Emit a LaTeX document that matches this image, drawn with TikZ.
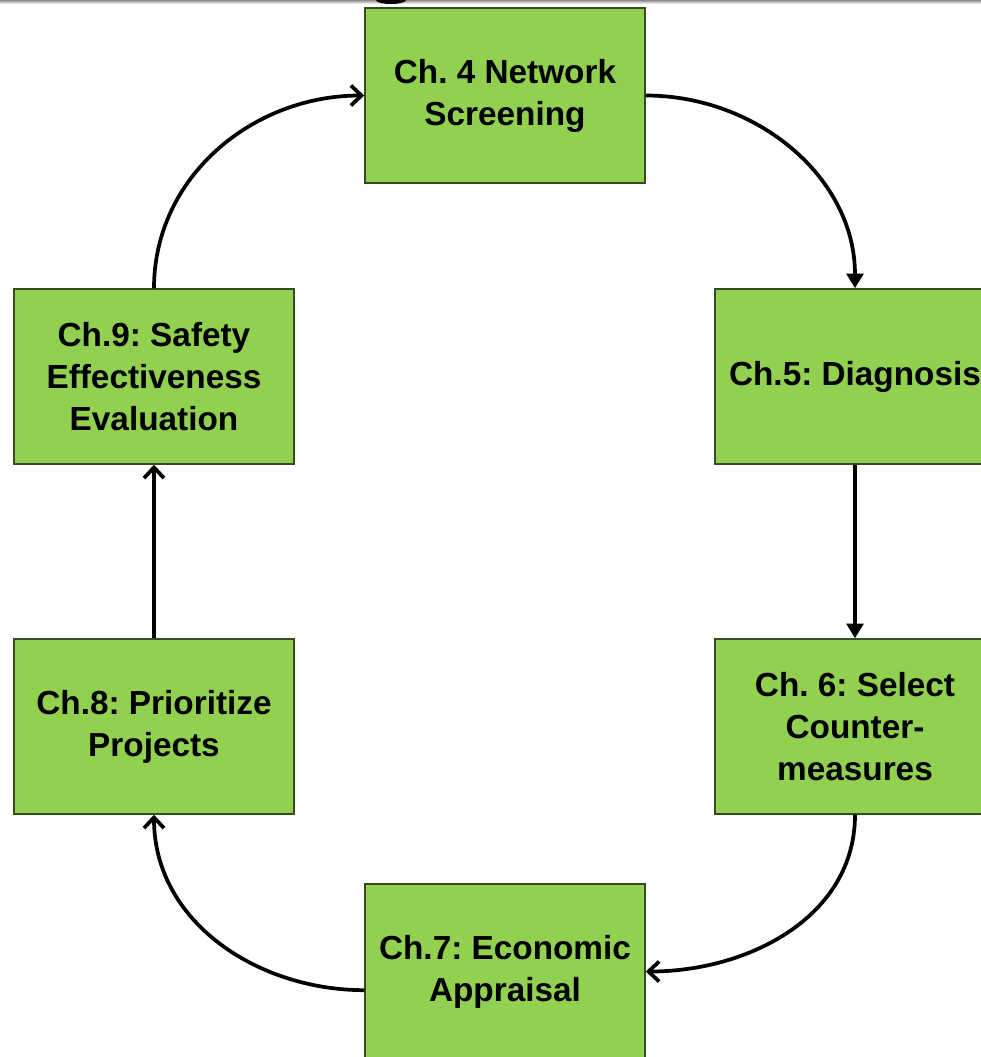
\documentclass[tikz,border=0pt]{standalone}
\usepackage{fontspec}
\setmainfont{Liberation Sans}
\usetikzlibrary{arrows.meta}
\definecolor{boxgreen}{RGB}{146,208,80}
\definecolor{boxedge}{RGB}{55,75,35}
\frenchspacing
\begin{document}
\begin{tikzpicture}[x=0.75pt,y=-0.75pt,
  chbox/.style={rectangle,fill=boxgreen,draw=boxedge,line width=1.1pt,
    minimum width=210pt,minimum height=131.25pt,inner sep=0pt,
    align=center,font=\fontsize{25}{31.5}\selectfont\bfseries\frenchspacing,text=black},
  conn/.style={line width=2.8pt,black},
  solidtip/.style={-{Triangle[length=11pt,width=12.5pt]}},
  opentip/.style={-{Straight Barb[length=8pt,width=15pt]}}]
\clip (0,0) rectangle (981,1057);
\fill[white] (0,0) rectangle (981,1057);
\shade[top color=black!45,bottom color=white] (0,0) rectangle (981,4);
\fill[black] (391,0) ellipse [x radius=15, y radius=4];
\node[chbox] (c4) at (505,95.5) {Ch. 4 Network\\Screening};
\node[chbox] (c5) at (855,376.5) {Ch.5: Diagnosis};
\node[chbox] (c6) at (855,726.5) {Ch. 6: Select\\Counter-\\measures};
\node[chbox] (c7) at (505,971.5) {Ch.7: Economic\\Appraisal};
\node[chbox] (c8) at (154,726.5) {Ch.8: Prioritize\\Projects};
\node[chbox] (c9) at (154,376.5) {Ch.9: Safety\\Effectiveness\\Evaluation};
\draw[conn,solidtip] (c4.east) to[out=0,in=90] (c5.north);
\draw[conn,solidtip] (c5.south) -- (c6.north);
\draw[conn,opentip] (c6.south) to[out=-90,in=0] (c7.east);
\draw[conn,opentip] ([yshift=-14pt]c7.west) to[out=180,in=-90] (c8.south);
\draw[conn,opentip] (c8.north) -- (c9.south);
\draw[conn,opentip] (c9.north) to[out=90,in=180] (c4.west);
\end{tikzpicture}
\end{document}
